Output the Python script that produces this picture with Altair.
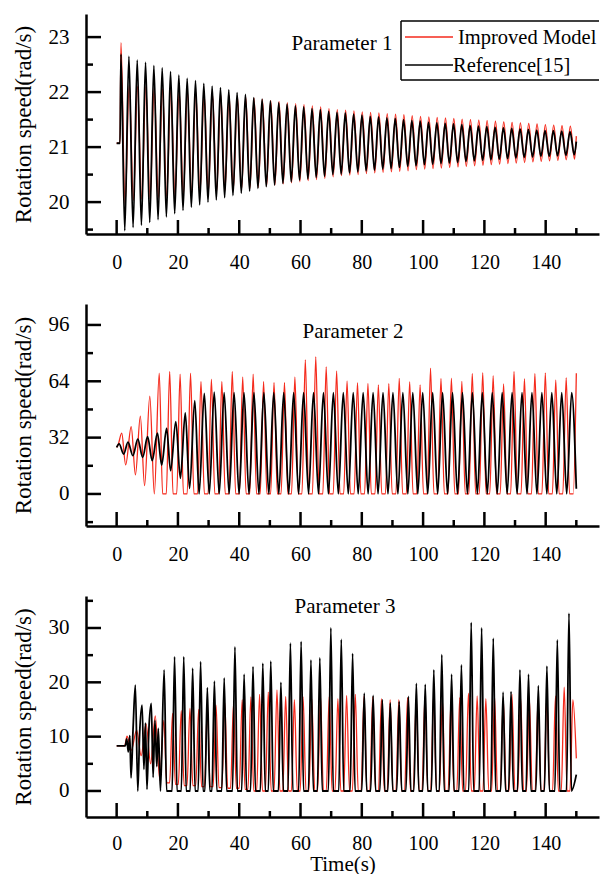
import altair as alt
import pandas as pd

FONT = "Liberation Serif"
RED = "#f52a1c"
BLACK = "#000000"

# ---------------- shared x axis ----------------
X_DOMAIN = [-10, 157.4]
X_MAJOR = [0, 20, 40, 60, 80, 100, 120, 140]
X_MINOR = [10, 30, 50, 70, 90, 110, 130, 150]
W = 513

# ---------------- Parameter 1 ----------------
P1_Y_DOMAIN = [19.42, 23.42]
P1_Y_MAJOR = [20, 21, 22, 23]
P1_Y_MINOR = [19.5, 20.5, 21.5, 22.5]
P1_START = [(0.0, 21.07), (1.1, 21.07)]
P1_PERIOD = 2.716
P1_BLACK_FIRST_PEAK = (1.4, 22.69)
P1_BLACK_PEAK_T0 = 4.0
P1_BLACK_PEAKS = [22.65, 22.58, 22.54, 22.48, 22.44, 22.37, 22.31, 22.25, 22.21, 22.16,
                  22.11, 22.08, 22.04, 21.99, 21.96, 21.90, 21.87, 21.84, 21.81, 21.78,
                  21.75, 21.73, 21.70, 21.68, 21.65, 21.63, 21.62, 21.60, 21.58, 21.56,
                  21.55, 21.53, 21.52, 21.50, 21.48, 21.47, 21.45, 21.44, 21.43, 21.42,
                  21.41, 21.39, 21.38, 21.37, 21.36, 21.35, 21.34, 21.33, 21.32, 21.31,
                  21.30, 21.30, 21.29, 21.28]
P1_BLACK_TROUGH_T0 = 2.65
P1_BLACK_TROUGHS = [19.48, 19.54, 19.58, 19.63, 19.68, 19.73, 19.79, 19.85, 19.91, 19.95,
                    20.00, 20.04, 20.08, 20.12, 20.16, 20.20, 20.25, 20.28, 20.31, 20.34,
                    20.37, 20.40, 20.42, 20.45, 20.47, 20.50, 20.51, 20.53, 20.55, 20.57,
                    20.58, 20.60, 20.61, 20.63, 20.65, 20.66, 20.68, 20.69, 20.70, 20.71,
                    20.72, 20.74, 20.75, 20.76, 20.77, 20.78, 20.79, 20.80, 20.81, 20.82,
                    20.83, 20.83, 20.84, 20.85, 20.86]
P1_BLACK_END = (150.0, 21.10)
P1_RED_FIRST_PEAK = (1.4, 22.90)
P1_RED_PEAK_T0 = 4.1
P1_RED_PEAKS = [22.13, 22.11, 22.10, 22.08, 22.06, 22.05, 22.03, 22.01, 22.00, 21.98,
                21.97, 21.95, 21.94, 21.92, 21.91, 21.89, 21.87, 21.85, 21.83, 21.81,
                21.79, 21.77, 21.75, 21.73, 21.70, 21.68, 21.67, 21.66, 21.64, 21.63,
                21.62, 21.61, 21.60, 21.59, 21.57, 21.56, 21.55, 21.54, 21.53, 21.52,
                21.51, 21.50, 21.49, 21.48, 21.47, 21.46, 21.45, 21.44, 21.43, 21.42,
                21.41, 21.40, 21.39, 21.38]
P1_RED_TROUGH_T0 = 2.75
P1_RED_TROUGHS = [19.95, 20.03, 20.05, 20.06, 20.08, 20.10, 20.11, 20.13, 20.15, 20.16,
                  20.18, 20.19, 20.21, 20.22, 20.24, 20.25, 20.27, 20.29, 20.31, 20.33,
                  20.35, 20.37, 20.39, 20.41, 20.43, 20.46, 20.48, 20.49, 20.50, 20.52,
                  20.53, 20.54, 20.55, 20.56, 20.57, 20.59, 20.60, 20.61, 20.62, 20.63,
                  20.64, 20.65, 20.66, 20.67, 20.68, 20.69, 20.70, 20.71, 20.72, 20.73,
                  20.74, 20.75, 20.76, 20.77, 20.78]
P1_RED_END = (150.0, 21.20)

# ---------------- Parameter 2 ----------------
P2_Y_DOMAIN = [-18.2, 107.9]
P2_Y_MAJOR = [0, 32, 64, 96]
P2_Y_MINOR = [-16, 16, 48, 80]
P2_BLACK_EARLY = [(0.0, 26.5), (0.8, 28.4), (2.3, 22.7), (3.7, 29.4), (5.3, 21.8),
                  (6.9, 31.2), (8.5, 20.8), (10.1, 32.6), (11.6, 18.9), (13.3, 34.5),
                  (14.7, 16.5), (16.3, 37.3), (17.6, 13.3), (19.3, 41.1), (20.8, 8.9),
                  (22.4, 46.0), (23.8, 3.2), (25.5, 53.0), (26.9, 0.0)]
P2_BLACK_PEAK_T0 = 28.6
P2_BLACK_PERIOD = 3.24
P2_BLACK_PEAKS = [57.1, 57.9, 57.5, 57.5, 57.5, 57.5, 57.5, 57.5, 57.5, 57.5,
                  57.5, 57.5, 57.5, 57.5, 57.5, 57.5, 57.5, 57.5, 57.5, 57.5,
                  57.5, 57.5, 57.5, 57.5, 57.5, 57.5, 57.5, 57.5, 57.5, 57.5,
                  57.5, 57.5, 57.5, 57.5, 57.5, 57.5, 57.5, 57.5]
P2_BLACK_BOTTOM = 0.0
P2_BLACK_END = (150.0, 3.0)
P2_RED_EARLY = [(0.0, 26.5), (0.4, 27.5), (1.66, 34.5), (2.94, 16.5), (4.75, 38.3),
                (6.13, 10.8), (7.73, 44.2), (9.11, 4.7), (10.82, 55.5), (12.3, 0.0)]
P2_RED_PEAK_T0 = 13.9
P2_RED_PERIOD = 3.405
P2_RED_PEAKS = [68.6, 69.6, 68.0, 68.6, 63.9, 65.2, 63.9, 69.6, 66.5, 68.0,
                63.9, 63.3, 63.3, 66.5, 76.2, 77.9, 72.2, 69.9, 64.2, 63.2,
                62.8, 61.9, 62.7, 65.7, 63.8, 62.0, 71.4, 65.6, 65.8, 64.0,
                68.5, 68.9, 67.2, 62.5, 69.6, 65.5, 68.5, 68.8, 64.8, 66.0]
P2_RED_FLAT = (1.1, 2.3, 0.0)  # flat bottom: starts / ends (s after peak), level
P2_RED_END = (150.0, 68.6)

# ---------------- Parameter 3 ----------------
P3_Y_DOMAIN = [-4.79, 35.89]
P3_Y_MAJOR = [0, 10, 20, 30]
P3_Y_MINOR = [5, 15, 25, 35]
P3_BLACK_EARLY = [(0.0, 8.3), (2.8, 8.3), (3.3, 9.6), (3.8, 7.2), (4.3, 10.2),
                  (4.7, 2.4), (5.4, 12.0), (6.1, 19.5), (6.9, 0.0), (7.5, 10.5),
                  (8.3, 15.8), (8.9, 4.0), (9.4, 12.5), (9.9, 0.3), (10.5, 11.0),
                  (11.3, 16.1), (11.9, 2.5), (12.5, 13.0), (13.1, 4.5), (13.6, 11.5),
                  (14.3, 0.0)]
P3_BLACK_PEAK_T = [15.5, 18.9, 21.9, 24.8, 27.4, 29.6, 31.9, 35.1, 38.6, 41.6,
                   44.5, 47.7, 50.3, 53.6, 56.7, 60.2, 63.4, 66.3, 69.9, 73.3,
                   77.0, 80.8, 83.7, 86.7, 89.3, 92.2, 95.2, 97.8, 100.7, 103.5,
                   106.1, 109.3, 112.5, 115.7, 119.1, 122.9, 126.1, 128.7, 131.6, 134.4,
                   137.6, 140.4, 143.8, 147.6]
P3_BLACK_PEAK_V = [22.3, 24.7, 24.7, 22.6, 23.8, 19.0, 20.2, 20.8, 26.5, 21.5,
                   22.9, 23.5, 23.9, 20.0, 27.2, 27.5, 24.1, 24.5, 30.0, 27.9,
                   25.3, 18.0, 17.6, 16.8, 16.2, 16.5, 17.4, 19.8, 19.6, 22.3,
                   25.1, 21.5, 23.2, 31.0, 30.0, 28.1, 18.2, 18.3, 22.3, 21.5,
                   19.4, 23.0, 27.8, 32.7]
P3_BLACK_BOTTOM = (0.8, 0.0)  # bottom reached 0.8 s from each spike, level
P3_BLACK_END = (150.0, 3.0)
P3_RED_EARLY = [(0.0, 8.3), (2.6, 8.3), (3.4, 10.1), (4.8, 7.5), (6.5, 11.2),
                (8.0, 6.5), (9.6, 12.3), (11.1, 5.0), (12.6, 13.8), (14.1, 2.0)]
P3_RED_PEAK_T0 = 15.4
P3_RED_PERIOD = 2.84
P3_RED_PEAKS = [13.0, 14.3, 14.8, 15.2, 15.0, 15.3, 15.8, 16.3, 16.0, 16.8,
                17.3, 17.8, 18.2, 18.6, 17.4, 16.8, 17.3, 17.0, 17.5, 17.4,
                17.0, 17.6, 17.8, 17.5, 17.3, 17.0, 16.8, 16.8, 17.2, 17.0,
                17.4, 17.8, 17.0, 16.8, 17.2, 18.0, 17.5, 17.0, 17.5, 17.0,
                17.8, 17.0, 17.0, 16.8, 17.3, 17.5, 19.1, 16.8]
P3_RED_TROUGHS = [1.5, 1.2, 1.0, 1.0, 0.8, 0.8, 0.6, 0.5, 0.5, 0.3,
                  0.0, 0.0, 0.0, 0.0, 0.0, 0.0, 0.0, 0.0, 0.0, 0.0,
                  0.0, 0.0, 0.0, 0.0, 0.0, 0.0, 0.0, 0.0, 0.0, 0.0,
                  0.0, 0.0, 0.0, 0.0, 0.0, 0.0, 0.0, 0.0, 0.0, 0.0,
                  0.0, 0.0, 0.0, 0.0, 0.0, 0.0, 0.0]
P3_RED_FLAT = (0.95, 1.89)
P3_RED_END = (150.0, 6.0)


# ---------------- build series tables ----------------
def periodic(t0, period, values):
    return [(round(t0 + i * period, 3), v) for i, v in enumerate(values)]


def frame(points):
    pts = sorted(p for p in points if p[0] <= 150.0)
    return pd.DataFrame(pts, columns=["t", "v"])


p1_black = frame(P1_START + [P1_BLACK_FIRST_PEAK]
                 + periodic(P1_BLACK_PEAK_T0, P1_PERIOD, P1_BLACK_PEAKS)
                 + periodic(P1_BLACK_TROUGH_T0, P1_PERIOD, P1_BLACK_TROUGHS)
                 + [P1_BLACK_END])
p1_red = frame(P1_START + [P1_RED_FIRST_PEAK]
               + periodic(P1_RED_PEAK_T0, P1_PERIOD, P1_RED_PEAKS)
               + periodic(P1_RED_TROUGH_T0, P1_PERIOD, P1_RED_TROUGHS)
               + [P1_RED_END])

b2_peaks = periodic(P2_BLACK_PEAK_T0, P2_BLACK_PERIOD, P2_BLACK_PEAKS)
b2_bottoms = [(round(t + P2_BLACK_PERIOD / 2, 3), P2_BLACK_BOTTOM) for t, _ in b2_peaks]
p2_black = frame(P2_BLACK_EARLY + b2_peaks + [b for b in b2_bottoms if b[0] < 149.9] + [P2_BLACK_END])
r2_peaks = periodic(P2_RED_PEAK_T0, P2_RED_PERIOD, P2_RED_PEAKS)
r2_flats = ([(round(t + P2_RED_FLAT[0], 3), P2_RED_FLAT[2]) for t, _ in r2_peaks]
            + [(round(t + P2_RED_FLAT[1], 3), P2_RED_FLAT[2]) for t, _ in r2_peaks])
p2_red = frame(P2_RED_EARLY + r2_peaks + [f for f in r2_flats if f[0] < 149.9] + [P2_RED_END])

b3_peaks = list(zip(P3_BLACK_PEAK_T, P3_BLACK_PEAK_V))
b3_bottoms = []
for (ta, _), (tb, _) in zip(b3_peaks[:-1], b3_peaks[1:]):
    b3_bottoms.append((round(ta + P3_BLACK_BOTTOM[0], 3), P3_BLACK_BOTTOM[1]))
    b3_bottoms.append((round(tb - P3_BLACK_BOTTOM[0], 3), P3_BLACK_BOTTOM[1]))
b3_bottoms.append((round(b3_peaks[-1][0] + P3_BLACK_BOTTOM[0], 3), P3_BLACK_BOTTOM[1]))
p3_black = frame(P3_BLACK_EARLY + b3_peaks + b3_bottoms + [P3_BLACK_END])
r3_peaks = periodic(P3_RED_PEAK_T0, P3_RED_PERIOD, P3_RED_PEAKS)
r3_troughs = []
for (t, _), v in zip(r3_peaks[:-1], P3_RED_TROUGHS):
    r3_troughs.append((round(t + P3_RED_FLAT[0], 3), v))
    r3_troughs.append((round(t + P3_RED_FLAT[1], 3), v))
p3_red = frame(P3_RED_EARLY + r3_peaks + r3_troughs + [P3_RED_END])


# ---------------- chart builders ----------------
def panel(black, red, y_domain, y_major, y_minor, height, title, title_xy,
          x_title=None, legend=False, x_label_pad=18):
    xs = alt.Scale(domain=X_DOMAIN, nice=False, zero=False)
    ys = alt.Scale(domain=y_domain, nice=False, zero=False)
    x_axis = alt.Axis(values=X_MAJOR, title=x_title if x_title else "",
                      labelPadding=x_label_pad, titlePadding=0, titleFontSize=21)
    y_axis = alt.Axis(values=y_major, title="Rotation speed(rad/s)",
                      labelPadding=17, titlePadding=13, titleFontSize=23)

    def X(field):
        return alt.X(field, type="quantitative", scale=xs, axis=x_axis)

    def Y(field):
        return alt.Y(field, type="quantitative", scale=ys, axis=y_axis)

    red_line = alt.Chart(red).mark_line(
        interpolate="monotone", color=RED, strokeWidth=1.3, clip=True
    ).encode(x=X("t"), y=Y("v"))
    black_line = alt.Chart(black).mark_line(
        interpolate="monotone", color=BLACK, strokeWidth=1.8, clip=True
    ).encode(x=X("t"), y=Y("v"))

    def yt(vals, length):
        return alt.Chart(pd.DataFrame({"v": vals})).mark_rule(
            color=BLACK, strokeWidth=2.5
        ).encode(y=Y("v"), x=alt.value(0), x2=alt.value(length))

    def xt(vals, length):
        return alt.Chart(pd.DataFrame({"t": vals})).mark_rule(
            color=BLACK, strokeWidth=2.5
        ).encode(x=X("t"), y=alt.value(height), y2=alt.value(height - length))

    def txt(s, x, y, size=21, align="center", clip=False):
        return alt.Chart(pd.DataFrame({"s": [s]})).mark_text(
            font=FONT, fontSize=size, align=align, baseline="middle",
            color=BLACK, clip=clip
        ).encode(text="s:N", x=alt.value(x), y=alt.value(y))

    def seg(x1, x2, y1, y2, color=BLACK, width=1.5):
        return alt.Chart(pd.DataFrame({"a": [0]})).mark_rule(
            color=color, strokeWidth=width
        ).encode(x=alt.value(x1), x2=alt.value(x2), y=alt.value(y1), y2=alt.value(y2))

    layers = [red_line, black_line, yt(y_major, 15), yt(y_minor, 7),
              xt(X_MAJOR, 14), xt(X_MINOR, 6), txt(title, *title_xy)]

    if legend:
        layers += [seg(315, W, 7, 7), seg(315, W, 66, 66), seg(315, 315, 7, 66),
                   seg(319, 367, 23, 23, RED), seg(319, 367, 51, 51, BLACK),
                   txt("Improved Model", 372, 23.5, 20.5, "left"),
                   txt("Reference[15]", 367, 51.5, 20.5, "left")]

    return alt.layer(*layers).properties(width=W, height=height)


p1 = panel(p1_black, p1_red, P1_Y_DOMAIN, P1_Y_MAJOR, P1_Y_MINOR, 220,
           "Parameter 1", (256, 30), legend=True)
p2 = panel(p2_black, p2_red, P2_Y_DOMAIN, P2_Y_MAJOR, P2_Y_MINOR, 222,
           "Parameter 2", (267, 28))
p3 = panel(p3_black, p3_red, P3_Y_DOMAIN, P3_Y_MAJOR, P3_Y_MINOR, 221,
           "Parameter 3", (259, 11), x_title="Time(s)", x_label_pad=16)

chart = alt.vconcat(p1, p2, p3, spacing=70, bounds="flush").properties(
    padding={"left": 4, "top": 6, "right": 0, "bottom": 0},
    background="white",
).configure_view(stroke=None).configure_axis(
    grid=False, ticks=False, tickSize=0,
    domainColor=BLACK, domainWidth=2.5,
    labelFont=FONT, labelFontSize=20, labelColor=BLACK,
    titleFont=FONT, titleFontWeight="normal", titleColor=BLACK,
).configure_axisLeft(labelFontSize=21)

chart.save("out.html", embed_options={"renderer": "svg", "actions": False})
